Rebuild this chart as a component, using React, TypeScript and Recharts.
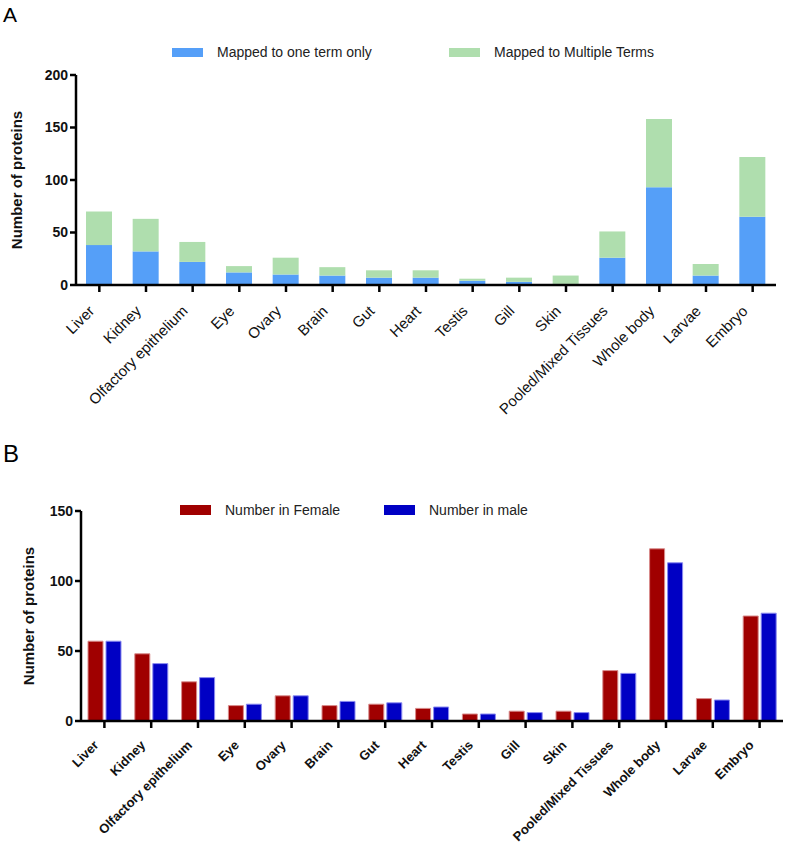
import React from 'react';
import { BarChart, Bar, XAxis, YAxis, Legend } from 'recharts';

const tissues = [
  'Liver', 'Kidney', 'Olfactory epithelium', 'Eye', 'Ovary', 'Brain', 'Gut', 'Heart',
  'Testis', 'Gill', 'Skin', 'Pooled/Mixed Tissues', 'Whole body', 'Larvae', 'Embryo',
];
// panel A (stacked)
const oneTermOnly = [38, 32, 22, 12, 10, 9, 7, 7, 4, 3, 1, 26, 93, 9, 65];
const multipleTerms = [32, 31, 19, 6, 16, 8, 7, 7, 2, 4, 8, 25, 65, 11, 57];
// panel B (grouped)
const femaleCounts = [57, 48, 28, 11, 18, 11, 12, 9, 5, 7, 7, 36, 123, 16, 75];
const maleCounts = [57, 41, 31, 12, 18, 14, 13, 10, 5, 6, 6, 34, 113, 15, 77];
const ticksA = [0, 50, 100, 150, 200];
const ticksB = [0, 50, 100, 150];
const seriesA = ['Mapped to one term only', 'Mapped to Multiple Terms'];
const seriesB = ['Number in Female', 'Number in male'];

const dataA = tissues.map((name, i) => ({ name, one: oneTermOnly[i], multi: multipleTerms[i] }));
const dataB = tissues.map((name, i) => ({ name, female: femaleCounts[i], male: maleCounts[i] }));

const FONT = '"Liberation Sans", Arial, sans-serif';

const makeTick = (fontSize: number, fontWeight: string, dx: number, dy: number) => (props: any) => {
  const { x, y, payload } = props;
  const tx = x + dx;
  const ty = y + dy;
  return (
    <text
      x={tx}
      y={ty}
      transform={`rotate(-45, ${tx}, ${ty})`}
      textAnchor="end"
      fontSize={fontSize}
      fontWeight={fontWeight}
      fontFamily={FONT}
      fill="#111"
    >
      {payload.value}
    </text>
  );
};
const TickA = makeTick(15, 'normal', -4, 18);
const TickB = makeTick(13, 'bold', -5, 16);

// legend drawn with zero height so it does not push the plot down
const makeLegend = (order: string[], swatchLeft: number[], swatchTop: number, swatchH: number, textTop: number) =>
  (props: any) => {
    const items = [...(props.payload || [])].sort(
      (a: any, b: any) => order.indexOf(a.value) - order.indexOf(b.value)
    );
    return (
      <div style={{ position: 'relative', height: 0 }}>
        {items.map((it: any, i: number) => (
          <React.Fragment key={it.value}>
            <div
              style={{
                position: 'absolute',
                left: swatchLeft[i],
                top: swatchTop,
                width: 31,
                height: swatchH,
                background: it.color,
              }}
            />
            <div
              style={{
                position: 'absolute',
                left: swatchLeft[i] + 45,
                top: textTop,
                fontSize: 14,
                lineHeight: '14px',
                fontFamily: FONT,
                color: '#222',
                whiteSpace: 'nowrap',
              }}
            >
              {it.value}
            </div>
          </React.Fragment>
        ))}
      </div>
    );
  };

const axisLine = { stroke: '#000', strokeWidth: 2.5 };
const yTick = { fill: '#111', fontSize: 14, fontWeight: 'bold', fontFamily: FONT };

export default function App() {
  return (
    <div style={{ position: 'fixed', top: 0, left: 0, width: 787, height: 851, background: '#fff' }}>
      <div style={{ position: 'absolute', left: 3, top: 4, fontSize: 21, lineHeight: '21px', fontFamily: FONT }}>A</div>
      <div style={{ position: 'absolute', left: 3, top: 442, fontSize: 24, lineHeight: '24px', fontFamily: FONT }}>B</div>

      <div style={{ position: 'absolute', left: 0, top: 0 }}>
        <BarChart width={787} height={480} data={dataA} margin={{ top: 75, right: 11, left: 16, bottom: 5 }} barSize={26}>
          <XAxis
            dataKey="name"
            interval={0}
            height={190}
            axisLine={axisLine}
            tickLine={axisLine}
            tickSize={7}
            tick={<TickA />}
          />
          <YAxis
            width={60}
            domain={[0, 200]}
            ticks={ticksA}
            axisLine={axisLine}
            tickLine={axisLine}
            tickSize={6}
            tickMargin={2}
            tick={yTick}
            label={{
              value: 'Number of proteins',
              angle: -90,
              position: 'insideLeft',
              offset: 1,
              fontSize: 15,
              fontWeight: 'bold',
              fontFamily: FONT,
              fill: '#111',
              style: { textAnchor: 'middle' },
            }}
          />
          <Legend
            verticalAlign="top"
            wrapperStyle={{ top: 0, left: 0, width: 787, height: 0 }}
            content={makeLegend(seriesA, [172, 449], 48, 9, 45)}
          />
          <Bar dataKey="one" name={seriesA[0]} stackId="a" fill="#559ff8" isAnimationActive={false} />
          <Bar dataKey="multi" name={seriesA[1]} stackId="a" fill="#afdeae" isAnimationActive={false} />
        </BarChart>
      </div>

      <div style={{ position: 'absolute', left: 0, top: 480 }}>
        <BarChart width={787} height={371} data={dataB} margin={{ top: 31, right: 4, left: 21, bottom: 5 }} barSize={15} barGap={3}>
          <XAxis
            dataKey="name"
            interval={0}
            height={125}
            axisLine={axisLine}
            tickLine={axisLine}
            tickSize={7}
            tick={<TickB />}
          />
          <YAxis
            width={60}
            domain={[0, 150]}
            ticks={ticksB}
            axisLine={axisLine}
            tickLine={axisLine}
            tickSize={6}
            tickMargin={2}
            tick={yTick}
            label={{
              value: 'Number of proteins',
              angle: -90,
              position: 'insideLeft',
              offset: 8,
              fontSize: 15,
              fontWeight: 'bold',
              fontFamily: FONT,
              fill: '#111',
              style: { textAnchor: 'middle' },
            }}
          />
          <Legend
            verticalAlign="top"
            wrapperStyle={{ top: 0, left: 0, width: 787, height: 0 }}
            content={makeLegend(seriesB, [180, 384], 25, 10, 23)}
          />
          <Bar dataKey="female" name={seriesB[0]} fill="#a00000" stroke="#d88a8a" strokeWidth={1} isAnimationActive={false} />
          <Bar dataKey="male" name={seriesB[1]} fill="#0000c4" stroke="#8a8af0" strokeWidth={1} isAnimationActive={false} />
        </BarChart>
      </div>
    </div>
  );
}
